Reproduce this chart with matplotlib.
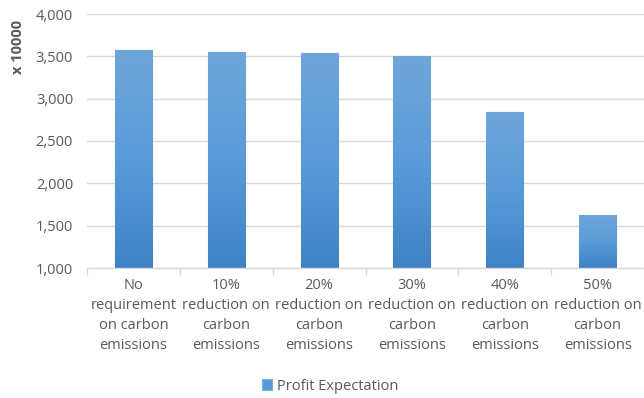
import matplotlib
matplotlib.use("Agg")
import matplotlib.pyplot as plt
import numpy as np
from matplotlib.colors import LinearSegmentedColormap

categories = ["No\nrequirement\non carbon\nemissions",
              "10%\nreduction on\ncarbon\nemissions",
              "20%\nreduction on\ncarbon\nemissions",
              "30%\nreduction on\ncarbon\nemissions",
              "40%\nreduction on\ncarbon\nemissions",
              "50%\nreduction on\ncarbon\nemissions"]
profit = [3575, 3555, 3535, 3500, 2845, 1625]
yticks = [1000, 1500, 2000, 2500, 3000, 3500, 4000]
series_name = "Profit Expectation"

plt.rcParams['font.family'] = ['Open Sans', 'DejaVu Sans']
txt = '#595959'

fig = plt.figure(figsize=(6.44, 3.98), dpi=100)
ax = fig.add_axes([87/644, 1-268/398, (644-87)/644, (268-14)/398])

x = np.arange(len(categories))
bars = ax.bar(x, profit, width=0.4, color='#5b9bd5', edgecolor='#7eb0e0',
              linewidth=0.8, zorder=2, label=series_name)

cmap = LinearSegmentedColormap.from_list('g', ['#3f83c6', '#5a9bd9', '#6fa6da'])
grad = np.linspace(0, 1, 256).reshape(-1, 1)
for b in bars:
    x0, y0 = b.get_x(), b.get_y()
    w, h = b.get_width(), b.get_height()
    im = ax.imshow(grad, cmap=cmap, aspect='auto', origin='lower',
                   extent=[x0, x0 + w, 1000, y0 + h], zorder=2.5)
    im.set_clip_path(b)

ax.set_xlim(-0.5, len(categories) - 0.5)
ax.set_ylim(1000, 4000)
ax.set_yticks(yticks)
ax.set_yticklabels([f"{v:,}" for v in yticks], color=txt, fontsize=10.5)
ax.yaxis.grid(True, color='#d9d9d9', linewidth=1, zorder=0)
ax.set_axisbelow(True)
ax.tick_params(axis='y', length=0, pad=10)

ax.set_xticks(np.arange(len(categories) + 1) - 0.5, minor=True)
ax.set_xticks(x)
ax.set_xticklabels(categories, color=txt, fontsize=10.5, linespacing=1.45)
ax.tick_params(axis='x', which='major', length=0, pad=7)
ax.tick_params(axis='x', which='minor', length=5, color='#d9d9d9', width=1)

for s in ['top', 'right', 'left']:
    ax.spines[s].set_visible(False)
ax.spines['bottom'].set_color('#d9d9d9')
ax.spines['bottom'].set_linewidth(1)

fig.text(18/644, 1-47/398, "x 10000", rotation=90, ha='center', va='center',
         fontsize=10.5, fontweight='bold', color=txt)

leg = fig.legend(handles=[bars], labels=[series_name], loc='center',
                 bbox_to_anchor=(330/644, 1-386/398), frameon=False,
                 fontsize=10.5, handlelength=0.7, handleheight=0.7,
                 handletextpad=0.3, labelcolor=txt)

fig.savefig("out.png", dpi=100)
